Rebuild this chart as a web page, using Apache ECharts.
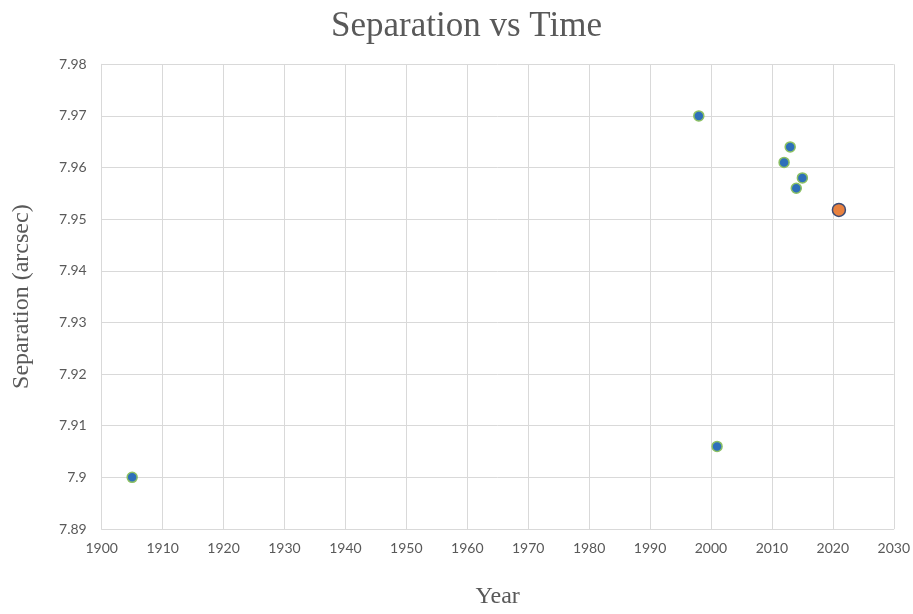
<!DOCTYPE html>
<html>
<head>
<meta charset="utf-8">
<script src="https://cdn.jsdelivr.net/npm/echarts@6/dist/echarts.min.js"></script>
<style>html,body{margin:0;padding:0;background:#fff}#c{width:913px;height:614px}</style>
</head>
<body>
<div id="c"></div>
<script>
const years = [1905, 1998, 2001, 2012, 2013, 2014, 2015];
const separations = [7.900, 7.970, 7.906, 7.961, 7.964, 7.956, 7.958];
const latestYear = [2021];
const latestSeparation = [7.9518];

const chart = echarts.init(document.getElementById('c'));
const tickColor = '#595959';
chart.setOption({
  animation: false,
  title: {
    text: 'Separation vs Time',
    left: 331,
    top: 9,
    padding: 0,
    textStyle: { fontFamily: 'Liberation Serif', fontSize: 35, fontWeight: 'normal', color: '#595959' }
  },
  grid: { left: 101.7, right: 17.3, top: 64.3, bottom: 83.3 },
  xAxis: {
    type: 'value', min: 1900, max: 2030, interval: 10,
    name: 'Year', nameLocation: 'middle', nameGap: 56,
    nameTextStyle: { fontFamily: 'Liberation Serif', fontSize: 24, color: '#595959' },
    axisLine: { show: true, lineStyle: { color: '#d9d9d9' } },
    axisTick: { show: false },
    axisLabel: { fontFamily: 'Lato', fontSize: 14, color: tickColor, margin: 12,
      formatter: v => String(v) },
    splitLine: { show: true, lineStyle: { color: '#d9d9d9' } }
  },
  yAxis: {
    type: 'value', min: 7.89, max: 7.98, interval: 0.01,
    name: 'Separation (arcsec)', nameLocation: 'middle', nameGap: 68, nameRotate: 90,
    nameTextStyle: { fontFamily: 'Liberation Serif', fontSize: 24, color: '#595959' },
    axisLine: { show: true, lineStyle: { color: '#d9d9d9' } },
    axisTick: { show: false },
    axisLabel: { fontFamily: 'Lato', fontSize: 14, color: tickColor, margin: 15,
      formatter: v => String(parseFloat(v.toFixed(3))) },
    splitLine: { show: true, lineStyle: { color: '#d9d9d9' } }
  },
  series: [
    {
      type: 'scatter',
      data: years.map((y, i) => [y, separations[i]]),
      symbolSize: 10,
      itemStyle: { color: '#2E6FBA', borderColor: '#8CC063', borderWidth: 1.5, opacity: 1 }
    },
    {
      type: 'scatter',
      data: latestYear.map((y, i) => [y, latestSeparation[i]]),
      symbolSize: 13,
      itemStyle: { color: '#E8813F', borderColor: '#3C4B74', borderWidth: 1.5, opacity: 1 }
    }
  ]
});
</script>
</body>
</html>
